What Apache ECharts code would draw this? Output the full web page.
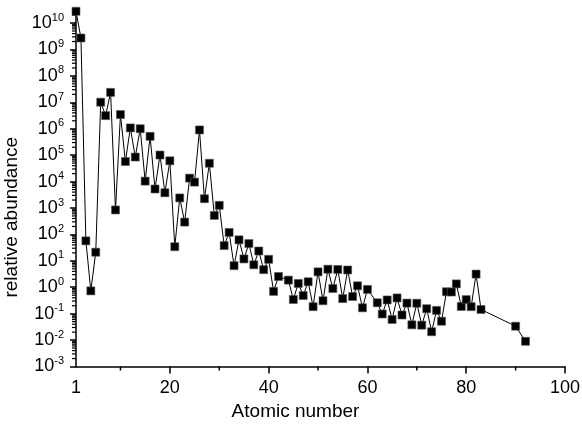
<!DOCTYPE html>
<html>
<head>
<meta charset="utf-8">
<script src="https://cdn.jsdelivr.net/npm/echarts@6/dist/echarts.min.js"></script>
<style>html,body{margin:0;padding:0;background:#fff}#c{width:582px;height:426px}</style>
</head>
<body>
<div id="c"></div>
<script>
// Atomic numbers (Tc, Pm, 84-89, 91 absent)
const atomicNumbers = [1,2,3,4,5,6,7,8,9,10,11,12,13,14,15,16,17,18,19,20,
  21,22,23,24,25,26,27,28,29,30,31,32,33,34,35,36,37,38,39,40,41,42,
  44,45,46,47,48,49,50,51,52,53,54,55,56,57,58,59,60,
  62,63,64,65,66,67,68,69,70,71,72,73,74,75,76,77,78,79,80,81,82,83,90,92];
// Relative abundances (Si = 1e6)
const abundances = [2.79e10,2.72e9,57.1,0.73,21.2,1.01e7,3.13e6,2.38e7,843,3.44e6,
  5.74e4,1.074e6,8.49e4,1.0e6,1.04e4,5.15e5,5240,1.01e5,3770,6.11e4,
  34.2,2400,293,1.35e4,9550,9.0e5,2250,4.93e4,522,1260,
  37.8,119,6.56,62.1,11.8,45,7.09,23.5,4.64,11.4,0.698,2.55,
  1.86,0.344,1.39,0.486,1.61,0.184,3.82,0.309,4.81,0.90,4.7,0.372,4.49,0.446,1.136,0.1669,0.828,
  0.258,0.0973,0.33,0.0603,0.394,0.0889,0.251,0.0378,0.248,0.0367,0.154,0.0207,0.133,0.0517,
  0.675,0.661,1.34,0.187,0.34,0.184,3.15,0.144,0.0335,0.0090];
// Tick labels
const xTickLabels = [1,20,40,60,80,100];
const xMajorTicks = [20,40,60,80,100];
const xMinorTicks = [10,30,50,70,90];
const yDecades = [-3,-2,-1,0,1,2,3,4,5,6,7,8,9,10];
const xMin = 1, xMax = 100;
const yMin = -3, yMax = 10.57;

const yMinor = [];
yDecades.forEach(n => { for (let k = 2; k <= 9; k++) { const v = n + Math.log10(k); if (v < yMax) yMinor.push(v); } });

const seriesData = atomicNumbers.map((z, i) => [z, Math.log10(abundances[i])]);
const FONT = "'Liberation Sans', Arial, sans-serif";

function tickRenderer(dir, len, w) {
  return function (params, api) {
    const p = api.coord([api.value(0), api.value(1)]);
    const shape = dir === 'left'
      ? {x1: p[0] - len, y1: p[1], x2: p[0], y2: p[1]}
      : {x1: p[0], y1: p[1], x2: p[0], y2: p[1] + len};
    return {type: 'line', shape: shape, style: {stroke: '#000', lineWidth: w}, silent: true};
  };
}

const chart = echarts.init(document.getElementById('c'), null, {renderer: 'canvas'});
chart.setOption({
  animation: false,
  backgroundColor: '#fff',
  grid: {left: 76, right: 17, top: 8, bottom: 59.5, containLabel: false, outerBoundsMode: 'none'},
  xAxis: {
    type: 'value', min: xMin, max: xMax, position: 'bottom',
    name: 'Atomic number', nameLocation: 'middle', nameGap: 33,
    nameTextStyle: {fontFamily: FONT, fontSize: 19, color: '#000', padding: [0, 50, 0, 0]},
    axisLine: {show: true, onZero: false, lineStyle: {color: '#000', width: 1.5}},
    axisTick: {show: true, customValues: xMajorTicks, length: 7, lineStyle: {color: '#000', width: 1.5}},
    axisLabel: {customValues: xTickLabels, margin: 13, fontFamily: FONT, fontSize: 18, color: '#000'},
    splitLine: {show: false}
  },
  yAxis: {
    type: 'value', min: yMin, max: yMax, position: 'left',
    name: 'relative abundance', nameLocation: 'middle', nameGap: 47, nameRotate: 90,
    nameTextStyle: {fontFamily: FONT, fontSize: 19, color: '#000', padding: [0, 60, 0, 0]},
    axisLine: {show: true, onZero: false, lineStyle: {color: '#000', width: 1.5}},
    axisTick: {show: true, customValues: yDecades, length: 6, lineStyle: {color: '#000', width: 1.5}},
    axisLabel: {
      customValues: yDecades, margin: 12,
      formatter: v => '{b|10}{s|' + Math.round(v) + '}',
      rich: {
        b: {fontFamily: FONT, fontSize: 18, lineHeight: 22, color: '#000'},
        s: {fontFamily: FONT, fontSize: 11, lineHeight: 11, verticalAlign: 'top', color: '#000'}
      }
    },
    splitLine: {show: false}
  },
  series: [{
    type: 'custom', name: 'yMinorTicks', clip: false, silent: true, z: 1,
    data: yMinor.map(v => [xMin, v]),
    renderItem: tickRenderer('left', 4, 1.2)
  }, {
    type: 'custom', name: 'xMinorTicks', clip: false, silent: true, z: 1,
    data: xMinorTicks.map(v => [v, yMin]),
    renderItem: tickRenderer('down', 4, 1.5)
  }, {
    type: 'line', name: 'abundance',
    data: seriesData,
    symbol: 'rect', symbolSize: 8, showAllSymbol: true,
    lineStyle: {color: '#000', width: 1},
    itemStyle: {color: '#000', borderColor: '#555', borderWidth: 0.6},
    clip: true, z: 3
  }]
});
</script>
</body>
</html>
